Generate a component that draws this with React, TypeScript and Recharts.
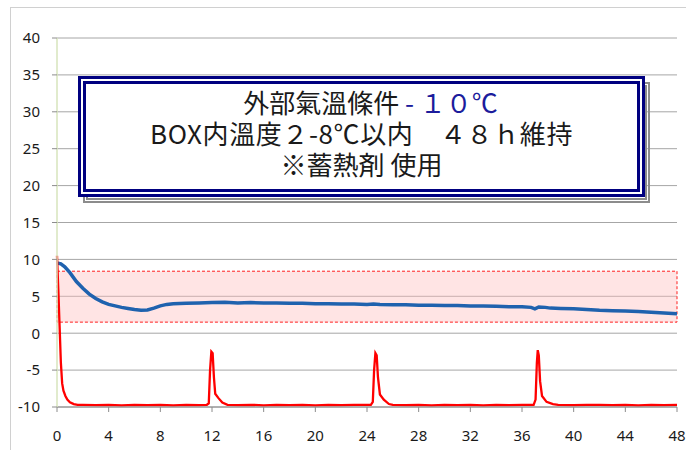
import React from "react";
import { CartesianGrid, Line, LineChart, ReferenceArea, XAxis, YAxis } from "recharts";

// hours on the x axis, temperature (°C) on the y axis
const hourTicks = [0, 4, 8, 12, 16, 20, 24, 28, 32, 36, 40, 44, 48];
const tempTicks = [-10, -5, 0, 5, 10, 15, 20, 25, 30, 35, 40];

// allowed range inside the box (2-8°C band as drawn)
const bandLow = 1.5;
const bandHigh = 8.4;

// temperature inside the BOX, [hour, °C]
const boxTemp: [number, number][] = [
  [0, 9.5], [0.3, 9.4], [0.6, 9.0], [1.0, 8.2], [1.5, 7.0], [2.0, 6.1],
  [2.5, 5.3], [3.0, 4.7], [3.5, 4.25], [4.0, 3.9], [4.5, 3.7], [5.0, 3.5],
  [5.5, 3.35], [6.0, 3.2], [6.5, 3.1], [7.0, 3.15], [7.5, 3.4], [8.0, 3.7],
  [8.5, 3.9], [9.0, 4.0], [10, 4.05], [11, 4.1], [12, 4.15], [13, 4.2],
  [14, 4.1], [15, 4.15], [16, 4.1], [17, 4.1], [18, 4.05], [19, 4.05],
  [20, 4.0], [21, 4.0], [22, 3.95], [23, 3.95], [24, 3.9], [24.5, 3.95],
  [25, 3.9], [26, 3.85], [27, 3.85], [28, 3.8], [29, 3.8], [30, 3.75],
  [31, 3.75], [32, 3.7], [33, 3.7], [34, 3.65], [35, 3.6], [36, 3.6],
  [36.7, 3.5], [37.0, 3.3], [37.3, 3.55], [37.8, 3.5], [38.2, 3.4], [39, 3.35],
  [40, 3.3], [41, 3.2], [42, 3.1], [43, 3.05], [44, 3.0], [45, 2.95],
  [46, 2.85], [47, 2.75], [48, 2.65],
];

// outside air temperature, [hour, °C]
const outsideTemp: [number, number][] = [
  [0, 10.5], [0.1, 6], [0.2, 1], [0.3, -4], [0.4, -6.8], [0.5, -7.8],
  [0.65, -8.5], [0.8, -9.0], [1.0, -9.35], [1.3, -9.6], [1.6, -9.7], [2, -9.7],
  [3, -9.75], [4, -9.7], [5, -9.78], [6, -9.72], [7, -9.75], [8, -9.7],
  [9, -9.78], [10, -9.72], [11, -9.75], [11.6, -9.7], [11.75, -9.5],
  [11.85, -5], [11.95, -2.5], [12.05, -2.7], [12.15, -6], [12.25, -8.2],
  [12.5, -8.8], [12.8, -9.4], [13.2, -9.7], [14, -9.75], [15, -9.7],
  [16, -9.78], [17, -9.72], [18, -9.75], [19, -9.7], [20, -9.78], [21, -9.72],
  [22, -9.75], [23, -9.7], [24.3, -9.7], [24.45, -9.3], [24.55, -5],
  [24.65, -2.7], [24.75, -3], [24.85, -6], [25.0, -8.3], [25.3, -9.0],
  [25.7, -9.6], [26, -9.7], [27, -9.75], [28, -9.7], [29, -9.78], [30, -9.72],
  [31, -9.75], [32, -9.7], [33, -9.78], [34, -9.72], [35, -9.75], [36, -9.7],
  [36.9, -9.7], [37.05, -9], [37.15, -4], [37.22, -2.3], [37.3, -3],
  [37.4, -6.5], [37.55, -8.5], [37.9, -9.3], [38.4, -9.6], [38.8, -9.7],
  [40, -9.75], [41, -9.7], [42, -9.72], [43, -9.75], [44, -9.7], [45, -9.78],
  [46, -9.72], [47, -9.75], [48, -9.7],
];

const toPoints = (rows: [number, number][]) => rows.map(([t, v]) => ({ t, v }));

const tickStyle = { fontSize: 15, fill: "#1a1a1a", fontFamily: "'Noto Sans', sans-serif" };

export default function App() {
  return (
    <div
      style={{
        position: "absolute",
        left: 0,
        top: 0,
        width: 686,
        height: 450,
        overflow: "hidden",
        background: "#fff",
      }}
    >
      {/* chart area border, runs off the right and bottom edges */}
      <div
        style={{
          position: "absolute",
          left: 10,
          top: 7,
          width: 700,
          height: 480,
          border: "1px solid #d0d0d0",
        }}
      />
      <LineChart
        width={686}
        height={450}
        margin={{ top: 38, right: 9, left: 0, bottom: 0 }}
        style={{ position: "absolute", left: 0, top: 0 }}
      >
        <CartesianGrid vertical={false} stroke="#a6a6a6" />
        <XAxis
          type="number"
          dataKey="t"
          domain={[0, 48]}
          ticks={hourTicks}
          interval={0}
          height={43}
          tickSize={5}
          tickMargin={18}
          stroke="#8c8c8c"
          tick={tickStyle}
          allowDuplicatedCategory={false}
        />
        <YAxis
          type="number"
          domain={[-10, 40]}
          ticks={tempTicks}
          interval={0}
          width={57}
          tickSize={5}
          tickMargin={12}
          axisLine={{ stroke: "#d7e4bd", strokeWidth: 1.5 }}
          tickLine={{ stroke: "#8c8c8c" }}
          tick={tickStyle}
        />
        <ReferenceArea
          x1={0}
          x2={48}
          y1={bandLow}
          y2={bandHigh}
          fill="#ffbcbc"
          fillOpacity={0.4}
          stroke="#ff2020"
          strokeDasharray="3 2"
          strokeWidth={1}
          ifOverflow="visible"
        />
        <Line
          data={toPoints(boxTemp)}
          dataKey="v"
          type="linear"
          stroke="#1f62ae"
          strokeWidth={3.5}
          dot={false}
          isAnimationActive={false}
        />
        <Line
          data={toPoints(outsideTemp)}
          dataKey="v"
          type="linear"
          stroke="#ff0000"
          strokeWidth={2.3}
          dot={false}
          isAnimationActive={false}
        />
      </LineChart>
      {/* text box shadow */}
      <div
        style={{
          position: "absolute",
          left: 83,
          top: 82,
          width: 567,
          height: 121,
          boxSizing: "border-box",
          border: "5px double #8c8c8c",
        }}
      />
      {/* text box */}
      <div
        style={{
          position: "absolute",
          left: 78,
          top: 76,
          width: 567,
          height: 121,
          boxSizing: "border-box",
          border: "8px double #000080",
          background: "#fff",
          display: "flex",
          flexDirection: "column",
          justifyContent: "center",
          alignItems: "center",
          paddingBottom: 8,
          fontFamily: "'Noto Sans CJK JP', sans-serif",
          fontSize: 26,
          lineHeight: "31px",
          color: "#1a1a1a",
          whiteSpace: "pre",
        }}
      >
        <div style={{ paddingLeft: 18 }}>
          外部氣溫條件 <span style={{ color: "#1c1c9c" }}>- １０℃</span>
        </div>
        <div style={{ letterSpacing: 0.6 }}>BOX内溫度２-8℃以内　４８ｈ維持</div>
        <div>※蓄熱剤 使用</div>
      </div>
    </div>
  );
}
